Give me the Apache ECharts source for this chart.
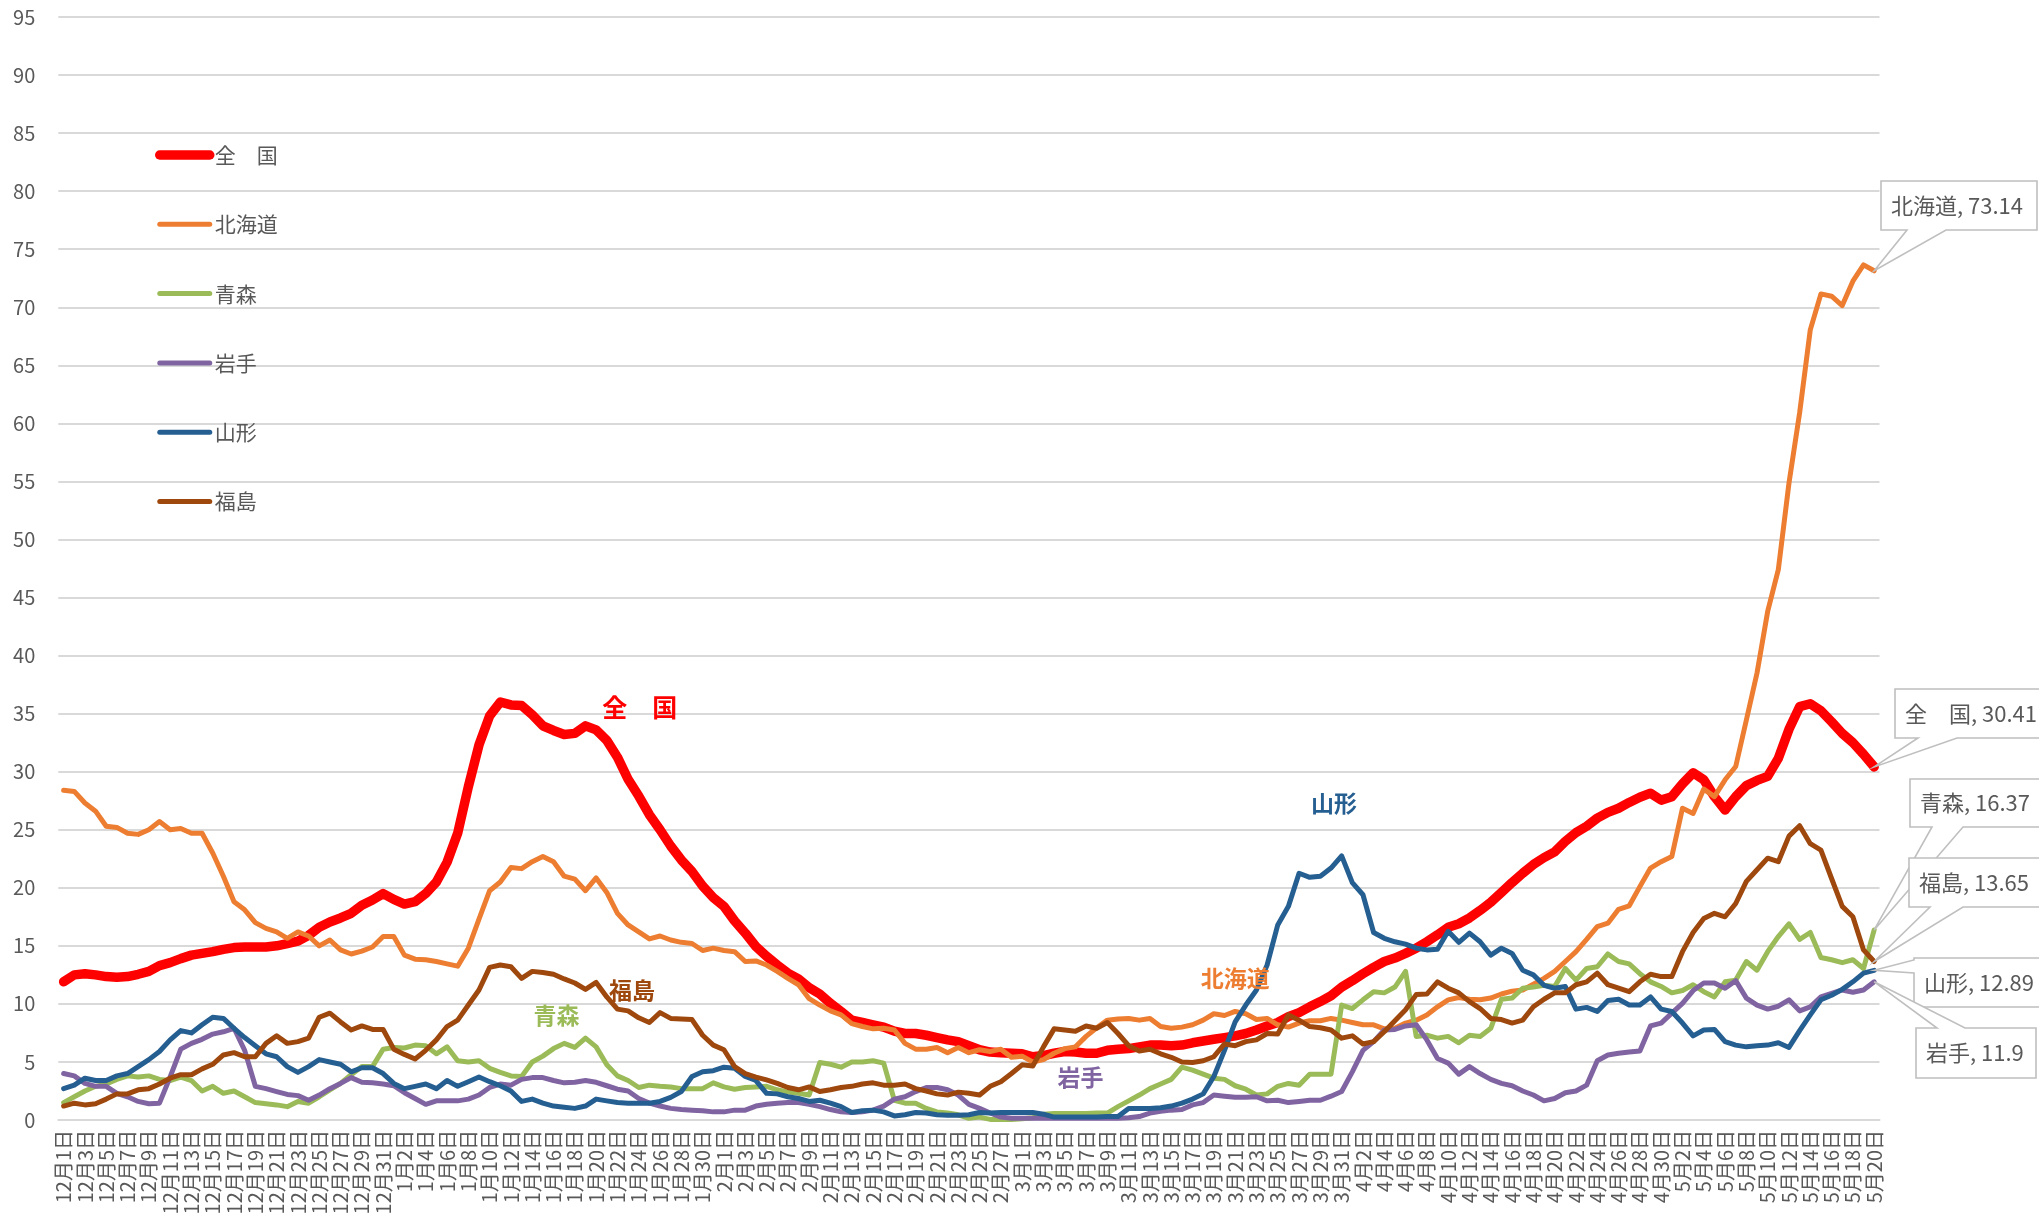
<!DOCTYPE html>
<html>
<head>
<meta charset="utf-8">
<script src="https://cdn.jsdelivr.net/npm/echarts@6/dist/echarts.min.js"></script>
<style>
html,body{margin:0;padding:0;background:#ffffff;}
#main{width:2039px;height:1232px;}
</style>
</head>
<body>
<div id="main"></div>
<script>
// ---- categories (daily, Dec 1 .. May 20) ----
const monthSpans = [[12,31],[1,31],[2,28],[3,31],[4,30],[5,20]];
const categories = [];
monthSpans.forEach(function(ms){ for (let d = 1; d <= ms[1]; d++) categories.push(ms[0] + '月' + d + '日'); });

// ---- series values ----
const zenkoku = [
11.9,12.5,12.6,12.5,12.35,12.3,12.35,12.55,12.8,13.3,
13.55,13.9,14.2,14.35,14.5,14.7,14.85,14.9,14.9,14.9,
15.0,15.2,15.4,15.9,16.6,17.05,17.4,17.8,18.5,18.95,
19.5,19.0,18.6,18.8,19.5,20.5,22.2,24.7,28.7,32.3,
34.8,36.0,35.75,35.7,34.9,33.95,33.55,33.2,33.3,33.95,
33.6,32.7,31.25,29.35,27.9,26.3,25.0,23.6,22.4,21.4,
20.15,19.15,18.4,17.15,16.1,14.95,14.1,13.35,12.65,12.15,
11.4,10.85,10.05,9.35,8.6,8.4,8.2,8.0,7.65,7.45,
7.45,7.3,7.1,6.9,6.75,6.4,6.05,5.85,5.8,5.75,
5.7,5.45,5.55,5.75,5.9,5.85,5.75,5.75,6.0,6.1,
6.15,6.3,6.45,6.45,6.4,6.45,6.65,6.8,6.95,7.1,
7.25,7.45,7.75,8.1,8.4,8.9,9.25,9.75,10.2,10.7,
11.45,12.0,12.6,13.15,13.65,13.95,14.35,14.8,15.35,15.95,
16.6,16.9,17.4,18.05,18.75,19.6,20.45,21.25,22.0,22.6,
23.1,24.0,24.75,25.3,26.0,26.5,26.85,27.35,27.8,28.15,
27.55,27.85,28.95,29.9,29.3,27.85,26.7,27.85,28.8,29.25,
29.6,31.15,33.65,35.6,35.85,35.25,34.3,33.3,32.5,31.5,
30.41];
const hokkaido = [
28.4,28.3,27.3,26.6,25.3,25.2,24.7,24.6,25.0,25.7,
25.0,25.1,24.7,24.7,23.0,21.0,18.8,18.1,17.0,16.5,
16.2,15.65,16.2,15.85,15.0,15.5,14.65,14.3,14.55,14.9,
15.8,15.8,14.2,13.85,13.8,13.65,13.45,13.25,14.8,17.3,
19.75,20.5,21.75,21.65,22.25,22.7,22.25,21.0,20.75,19.75,
20.85,19.6,17.8,16.8,16.2,15.6,15.85,15.5,15.3,15.2,
14.6,14.8,14.6,14.5,13.65,13.7,13.35,12.8,12.2,11.65,
10.45,9.9,9.4,9.05,8.3,8.05,7.85,7.9,7.75,6.6,
6.1,6.1,6.25,5.8,6.25,5.8,6.05,5.9,6.1,5.4,
5.5,5.0,5.2,5.75,6.15,6.3,7.2,7.95,8.6,8.7,
8.75,8.6,8.75,8.05,7.9,8.0,8.2,8.6,9.15,9.0,
9.35,9.15,8.65,8.75,8.2,8.0,8.35,8.55,8.55,8.75,
8.6,8.4,8.2,8.2,7.85,7.9,8.35,8.6,9.05,9.75,
10.35,10.55,10.4,10.35,10.5,10.85,11.1,11.2,11.7,12.2,
12.8,13.65,14.5,15.55,16.65,16.95,18.15,18.45,20.1,21.7,
22.25,22.7,26.85,26.4,28.5,27.85,29.3,30.45,34.45,38.5,
43.8,47.4,54.85,60.9,68.05,71.15,70.95,70.15,72.25,73.65,
73.14];
const aomori = [
1.5,2.0,2.5,2.9,3.1,3.5,3.8,3.7,3.8,3.5,
3.4,3.7,3.4,2.5,2.9,2.3,2.5,2.0,1.5,1.4,
1.3,1.15,1.6,1.45,2.0,2.6,3.15,3.9,4.6,4.6,
6.1,6.25,6.2,6.45,6.4,5.7,6.3,5.1,5.0,5.1,
4.45,4.1,3.8,3.75,5.0,5.5,6.15,6.6,6.25,7.05,
6.3,4.75,3.8,3.4,2.8,3.0,2.9,2.85,2.7,2.7,
2.7,3.2,2.85,2.65,2.8,2.85,2.9,2.6,2.4,2.3,
2.15,4.95,4.8,4.55,5.0,5.0,5.1,4.9,1.7,1.45,
1.45,1.0,0.7,0.6,0.45,0.15,0.25,0.05,0.05,0.05,
0.1,0.2,0.5,0.55,0.55,0.55,0.55,0.6,0.6,1.15,
1.65,2.15,2.7,3.1,3.5,4.55,4.3,3.95,3.6,3.5,
2.95,2.65,2.15,2.25,2.9,3.15,3.0,3.95,3.95,3.95,
9.9,9.6,10.35,11.05,10.95,11.45,12.8,7.2,7.3,7.05,
7.2,6.65,7.3,7.2,7.9,10.4,10.5,11.35,11.45,11.6,
11.5,13.05,12.05,13.05,13.2,14.3,13.65,13.45,12.6,11.9,
11.5,10.95,11.15,11.65,11.05,10.6,11.9,12.05,13.65,12.9,
14.5,15.8,16.9,15.55,16.15,14.0,13.8,13.55,13.8,13.05,
16.37];
const iwate = [
4.0,3.8,3.15,2.9,2.9,2.3,2.0,1.6,1.4,1.45,
3.7,6.1,6.6,6.95,7.4,7.6,7.9,6.0,2.9,2.7,
2.45,2.2,2.1,1.7,2.15,2.7,3.15,3.65,3.25,3.2,
3.1,2.95,2.35,1.85,1.35,1.65,1.65,1.65,1.8,2.15,
2.8,3.1,3.0,3.5,3.65,3.65,3.4,3.2,3.25,3.4,
3.25,2.95,2.65,2.5,1.85,1.45,1.2,1.0,0.9,0.85,
0.8,0.7,0.7,0.85,0.85,1.2,1.35,1.45,1.5,1.5,
1.35,1.15,0.9,0.7,0.65,0.7,0.85,1.2,1.8,2.0,
2.45,2.8,2.8,2.6,2.15,1.35,1.0,0.6,0.25,0.15,
0.15,0.15,0.15,0.15,0.15,0.15,0.15,0.15,0.15,0.15,
0.2,0.3,0.6,0.75,0.85,0.9,1.3,1.5,2.15,2.05,
1.95,1.95,2.0,1.65,1.7,1.5,1.6,1.7,1.7,2.05,
2.45,4.15,6.0,6.75,7.75,7.8,8.1,8.2,6.9,5.3,
4.9,3.95,4.6,4.0,3.5,3.15,2.95,2.5,2.15,1.65,
1.85,2.35,2.5,3.0,5.1,5.6,5.75,5.85,5.95,8.1,
8.35,9.2,10.05,11.15,11.8,11.8,11.35,12.0,10.5,9.9,
9.55,9.8,10.35,9.4,9.75,10.6,10.9,11.2,11.0,11.2,
11.9];
const yamagata = [
2.7,3.0,3.6,3.4,3.4,3.8,4.0,4.6,5.2,5.9,
6.9,7.7,7.5,8.2,8.85,8.75,7.9,7.1,6.4,5.7,
5.45,4.6,4.1,4.6,5.2,5.0,4.8,4.15,4.5,4.5,
4.0,3.15,2.7,2.9,3.1,2.7,3.4,2.9,3.3,3.7,
3.3,2.95,2.5,1.6,1.8,1.45,1.2,1.1,1.0,1.2,
1.8,1.65,1.5,1.45,1.45,1.45,1.6,1.95,2.45,3.75,
4.15,4.25,4.55,4.45,3.75,3.4,2.3,2.25,2.0,1.85,
1.6,1.7,1.45,1.15,0.65,0.8,0.85,0.7,0.35,0.45,
0.65,0.6,0.45,0.4,0.4,0.45,0.65,0.6,0.65,0.65,
0.65,0.65,0.5,0.25,0.25,0.25,0.25,0.25,0.3,0.3,
1.0,1.0,1.0,1.05,1.2,1.45,1.8,2.25,3.75,6.0,
8.45,9.9,11.2,13.35,16.8,18.4,21.25,20.9,21.0,21.7,
22.75,20.45,19.4,16.15,15.65,15.35,15.15,14.8,14.65,14.7,
16.25,15.3,16.1,15.35,14.2,14.8,14.35,12.9,12.5,11.6,
11.35,11.5,9.55,9.7,9.35,10.3,10.4,9.9,9.9,10.6,
9.55,9.35,8.35,7.25,7.75,7.8,6.75,6.45,6.3,6.4,
6.45,6.65,6.25,7.7,9.05,10.35,10.75,11.25,11.9,12.65,
12.89];
const fukushima = [
1.2,1.45,1.3,1.4,1.8,2.25,2.25,2.6,2.7,3.1,
3.6,3.9,3.9,4.4,4.8,5.6,5.8,5.45,5.45,6.6,
7.25,6.6,6.75,7.05,8.85,9.2,8.45,7.75,8.1,7.8,
7.8,6.1,5.65,5.25,6.0,6.9,8.05,8.6,9.9,11.2,
13.15,13.35,13.2,12.2,12.8,12.7,12.55,12.15,11.8,11.25,
11.85,10.6,9.55,9.4,8.8,8.4,9.25,8.75,8.7,8.65,
7.3,6.45,6.05,4.6,4.0,3.7,3.45,3.15,2.8,2.6,
2.85,2.45,2.6,2.8,2.9,3.1,3.2,3.0,3.0,3.1,
2.7,2.5,2.25,2.15,2.4,2.3,2.15,2.9,3.3,4.0,
4.75,4.65,6.3,7.85,7.75,7.65,8.1,7.9,8.4,7.45,
6.4,5.95,6.1,5.7,5.4,5.0,4.95,5.1,5.45,6.55,
6.4,6.75,6.9,7.45,7.4,9.05,8.6,8.05,7.95,7.75,
7.05,7.25,6.55,6.75,7.6,8.55,9.5,10.8,10.85,11.9,
11.35,10.95,10.2,9.6,8.75,8.65,8.35,8.6,9.75,10.4,
10.95,10.95,11.65,11.9,12.65,11.65,11.35,11.05,11.9,12.55,
12.35,12.35,14.5,16.15,17.35,17.8,17.5,18.65,20.55,21.55,
22.55,22.25,24.45,25.35,23.8,23.25,20.8,18.4,17.5,14.65,
13.65];

const seriesNames = ['全　国','北海道','青森','岩手','山形','福島'];
const seriesData  = [zenkoku, hokkaido, aomori, iwate, yamagata, fukushima];

// ---- styles / layout (kept separate from data) ----
const FONT = '"Noto Sans CJK JP", "Noto Sans", sans-serif';
const colors = ['#FF0000','#ED7D31','#9BBB59','#8064A2','#255E91','#9E480E'];
const widths = [9.5, 5, 5, 5, 5, 5];
// inline name labels: anchor category index and value
const nameLabelAnchors = [
  {idx:54, val:35.5, size:25, dx:1},
  {idx:110, val:12.17, size:23, dx:0},
  {idx:46, val:8.98, size:23, dx:3},
  {idx:95, val:3.7, size:23, dx:5},
  {idx:119, val:27.3, size:23, dx:3},
  {idx:53, val:11.15, size:23, dx:4}
];
// end-of-line callouts: box [x0,y0,x1,y1] in px, wedge side and base
const calloutLayout = [
  {s:1, box:[1881,181,2037,230], side:'bottom', base:[1907,1946]},
  {s:0, box:[1895,689,2052,738], side:'bottom', base:[1918,1957]},
  {s:2, box:[1910,779,2052,827], side:'bottom', base:[1932,1963]},
  {s:5, box:[1909,858,2052,907], side:'bottom', base:[1930,1963]},
  {s:4, box:[1914,958,2052,1007], side:'left', base:[960,973]},
  {s:3, box:[1916,1028,2036,1078], side:'top', base:[1937,1965]}
];

const chart = echarts.init(document.getElementById('main'), null, {renderer:'canvas'});

const series = seriesNames.map(function(name, k){
  const a = nameLabelAnchors[k];
  return {
    name: name,
    type: 'line',
    data: seriesData[k],
    symbol: 'none',
    showSymbol: false,
    smooth: false,
    lineStyle: {width: widths[k], color: colors[k], cap:'round', join:'round'},
    itemStyle: {color: colors[k]},
    emphasis: {disabled: true},
    markPoint: {
      silent: true,
      symbol: 'circle',
      symbolSize: 0,
      data: [{coord: [categories[a.idx], a.val]}],
      label: {
        show: true, position: 'inside', offset: [a.dx, 0],
        formatter: name, color: colors[k], fontSize: a.size, fontWeight: 'bold', fontFamily: FONT
      }
    }
  };
});

const option = {
  animation: false,
  backgroundColor: '#ffffff',
  textStyle: {fontFamily: FONT},
  grid: {left: 58.3, right: 159.5, top: 17, bottom: 112, containLabel: false},
  legend: {
    orient: 'vertical',
    left: 150, top: 138,
    itemWidth: 50, itemHeight: 10, itemGap: 45.3,
    data: seriesNames,
    textStyle: {fontSize: 21, color: '#595959', lineHeight: 24, fontFamily: FONT},
    itemStyle: {opacity: 0},
    lineStyle: {width: 'inherit', cap: 'round'},
    selectedMode: false
  },
  xAxis: {
    type: 'category',
    data: categories,
    boundaryGap: true,
    axisLine: {lineStyle: {color: '#d9d9d9', width: 2}},
    axisTick: {interval: 1, length: 7, lineStyle: {color: '#d9d9d9', width: 2}},
    axisLabel: {interval: 1, rotate: 90, fontSize: 20, color: '#595959', margin: 10,
                fontFamily: FONT, showMinLabel: true, showMaxLabel: true},
    splitLine: {show: false}
  },
  yAxis: {
    type: 'value',
    min: 0, max: 95, interval: 5,
    axisLine: {show: false},
    axisTick: {show: false},
    axisLabel: {fontSize: 20, color: '#595959', margin: 23, fontFamily: FONT},
    splitLine: {lineStyle: {color: '#d9d9d9', width: 2}}
  },
  series: series
};
chart.setOption(option);

// ---- callouts, anchored at last data point via the chart's own scales ----
const last = categories.length - 1;
const graphics = [];
calloutLayout.forEach(function(c){
  const v = seriesData[c.s][last];
  const p = chart.convertToPixel({gridIndex: 0}, [last, v]);
  const x0 = c.box[0], y0 = c.box[1], x1 = c.box[2], y1 = c.box[3];
  let pts;
  if (c.side === 'bottom') {
    pts = [[x0,y0],[x1,y0],[x1,y1],[c.base[1],y1],[p[0],p[1]],[c.base[0],y1],[x0,y1]];
  } else if (c.side === 'top') {
    pts = [[x0,y0],[c.base[0],y0],[p[0],p[1]],[c.base[1],y0],[x1,y0],[x1,y1],[x0,y1]];
  } else {
    pts = [[x0,y0],[x1,y0],[x1,y1],[x0,y1],[x0,c.base[1]],[p[0],p[1]],[x0,c.base[0]]];
  }
  graphics.push({
    type: 'polygon', z: 100, silent: true,
    shape: {points: pts},
    style: {fill: '#ffffff', stroke: '#bfbfbf', lineWidth: 1.6}
  });
  graphics.push({
    type: 'text', z: 101, silent: true,
    x: x0 + 10, y: (y0 + y1) / 2,
    style: {text: seriesNames[c.s] + ', ' + v, fill: '#595959', font: '22px ' + FONT,
            verticalAlign: 'middle', textVerticalAlign: 'middle', align: 'left'}
  });
});
chart.setOption({graphic: graphics});
</script>
</body>
</html>
